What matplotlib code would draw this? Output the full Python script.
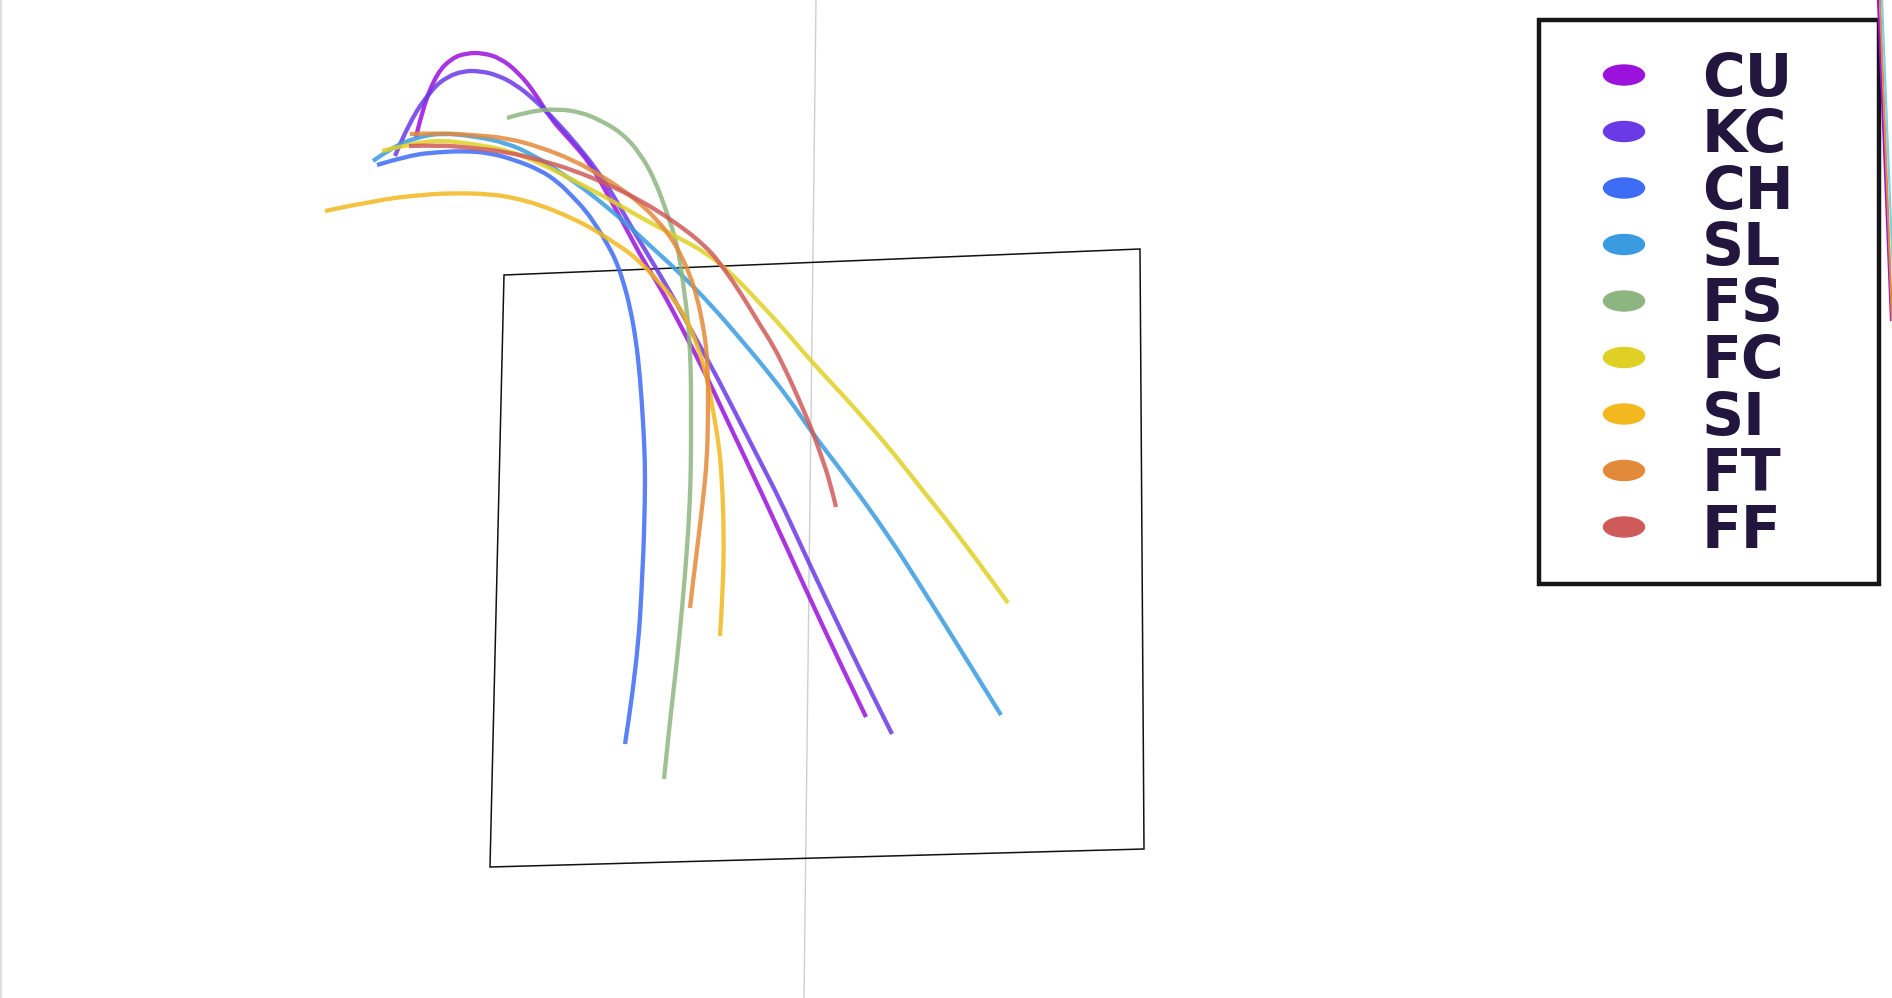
import matplotlib.pyplot as plt
from matplotlib.patches import Rectangle, Ellipse, Polygon, PathPatch
from matplotlib.path import Path

# pitch types, legend order
pitch_types = ["CU", "KC", "CH", "SL", "FS", "FC", "SI", "FT", "FF"]
pitch_colors = ["#9a12dc", "#6a3ae6", "#3d6cf5", "#3b9be0", "#8db57f",
                "#e0d024", "#f2b81e", "#e38a3a", "#cf5a5a"]

# trajectories (x, y in image pixels, y down)
cu_x = [416, 423, 437, 452, 467, 483, 500, 518, 535, 550, 570, 590, 608, 627, 643, 660, 683, 707, 720, 765, 806, 840, 866]
cu_y = [137, 107, 73, 58, 53, 53, 58, 72, 93, 118, 140, 163, 195, 230, 260, 287, 330, 377, 405, 500, 590, 663, 717]
kc_x = [395, 410, 433, 447, 463, 480, 497, 515, 535, 557, 578, 597, 615, 633, 653, 673, 695, 717, 740, 762, 780, 803, 825, 848, 870, 892]
kc_y = [156, 120, 88, 77, 71, 71, 75, 84, 100, 122, 146, 170, 198, 230, 263, 297, 337, 377, 422, 465, 500, 550, 597, 645, 690, 734]
ch_x = [377, 410, 440, 465, 490, 515, 540, 558, 573, 586, 597, 608, 617, 624, 630, 636, 640, 643, 645, 645, 643, 637, 625]
ch_y = [165, 155, 152, 151, 153, 160, 170, 182, 197, 211, 227, 245, 263, 284, 307, 340, 377, 420, 460, 500, 567, 667, 744]
sl_x = [373, 393, 415, 440, 473, 507, 533, 557, 583, 607, 628, 647, 680, 713, 737, 760, 790, 810, 850, 888, 920, 942, 970, 1001]
sl_y = [161, 147, 138, 133, 136, 143, 155, 170, 188, 207, 225, 243, 273, 307, 335, 362, 400, 430, 482, 535, 585, 620, 665, 715]
fs_x = [507, 530, 558, 580, 600, 622, 640, 655, 667, 675, 680, 684, 688, 690, 691, 691, 691, 690, 687, 682, 676, 670, 664]
fs_y = [118, 111, 109, 112, 120, 133, 153, 180, 213, 237, 260, 290, 320, 350, 380, 420, 460, 500, 550, 610, 670, 720, 779]
fc_x = [382, 410, 440, 473, 507, 540, 573, 607, 640, 673, 707, 733, 755, 783, 810, 840, 867, 895, 920, 945, 967, 990, 1008]
fc_y = [151, 144, 140, 144, 150, 163, 180, 198, 217, 235, 253, 275, 298, 328, 360, 392, 422, 455, 487, 518, 547, 578, 603]
si_x = [325, 377, 420, 453, 490, 515, 540, 565, 590, 610, 630, 645, 660, 675, 687, 698, 707, 713, 719, 722, 724, 723, 720]
si_y = [211, 200, 195, 193, 194, 198, 205, 215, 227, 240, 253, 267, 283, 301, 320, 347, 377, 410, 445, 480, 533, 590, 636]
ft_x = [410, 440, 473, 507, 540, 573, 600, 623, 642, 657, 670, 680, 690, 697, 703, 707, 708, 708, 707, 703, 697, 692, 690]
ft_y = [134, 133, 135, 138, 147, 160, 175, 190, 205, 220, 236, 253, 275, 297, 325, 353, 380, 420, 460, 500, 550, 590, 608]
ff_x = [409, 440, 473, 507, 540, 573, 607, 640, 675, 707, 725, 742, 760, 773, 788, 800, 812, 822, 830, 836]
ff_y = [146, 145, 148, 152, 160, 170, 184, 200, 222, 247, 270, 295, 325, 345, 375, 402, 430, 458, 482, 507]

traj_x = [cu_x, kc_x, ch_x, sl_x, fs_x, fc_x, si_x, ft_x, ff_x]
traj_y = [cu_y, kc_y, ch_y, sl_y, fs_y, fc_y, si_y, ft_y, ff_y]

# strike zone corners (seen in perspective)
zone_x = [504, 1140, 1144, 490]
zone_y = [275, 249, 849, 867]

# plate centre line
center_x = [816, 804]
center_y = [0, 998]

# pieces of other traces cut off at the right edge
edge_x = [[1878, 1891], [1880, 1892], [1882, 1894]]
edge_y = [[0, 320], [0, 320], [0, 300]]
edge_colors = ["#9a12dc", "#e38a3a", "#7fd0e6"]


def smooth_path(xs, ys):
    # quadratic b-spline through the traced points, drawn by matplotlib
    pts = list(zip(xs, ys))
    verts = [pts[0]]
    codes = [Path.MOVETO]
    for i in range(1, len(pts) - 1):
        nxt = pts[i + 1] if i + 1 == len(pts) - 1 else (
            (pts[i][0] + pts[i + 1][0]) / 2, (pts[i][1] + pts[i + 1][1]) / 2)
        verts += [pts[i], nxt]
        codes += [Path.CURVE3, Path.CURVE3]
    return Path(verts, codes)


W, H = 1892, 998
fig = plt.figure(figsize=(W / 100, H / 100), dpi=100)
ax = fig.add_axes([0, 0, 1, 1])
ax.set_xlim(0, W)
ax.set_ylim(H, 0)
ax.axis("off")

# light page border on the left
ax.plot([1, 1], [0, H], color="#dedede", lw=1.6)

ax.plot(center_x, center_y, color="#cfcfcf", lw=1.0, zorder=1)
ax.add_patch(Polygon(list(zip(zone_x, zone_y)), closed=True, fill=False,
                     edgecolor="#111111", lw=1.1, zorder=2))

for xs, ys, c in zip(traj_x, traj_y, pitch_colors):
    ax.add_patch(PathPatch(smooth_path(xs, ys), fill=False, edgecolor=c,
                           lw=3.1, alpha=0.85, capstyle="butt",
                           joinstyle="round", zorder=3))

# legend box
ax.add_patch(Rectangle((1539, 20), 340, 564, fill=False, edgecolor="#151515",
                       lw=3.2, zorder=4))
for i, (name, c) in enumerate(zip(pitch_types, pitch_colors)):
    yy = 75 + i * 56.5
    ax.add_patch(Ellipse((1624, yy), 41, 20, color=c, zorder=5))
    ax.text(1702, yy + 4, name, fontsize=42, fontweight="bold",
            family=["DejaVu Sans"], color="#22163f", va="center", ha="left",
            zorder=5)

for xs, ys, c in zip(edge_x, edge_y, edge_colors):
    ax.plot(xs, ys, color=c, lw=1.6, zorder=6)

fig.savefig("out.png", dpi=100)
